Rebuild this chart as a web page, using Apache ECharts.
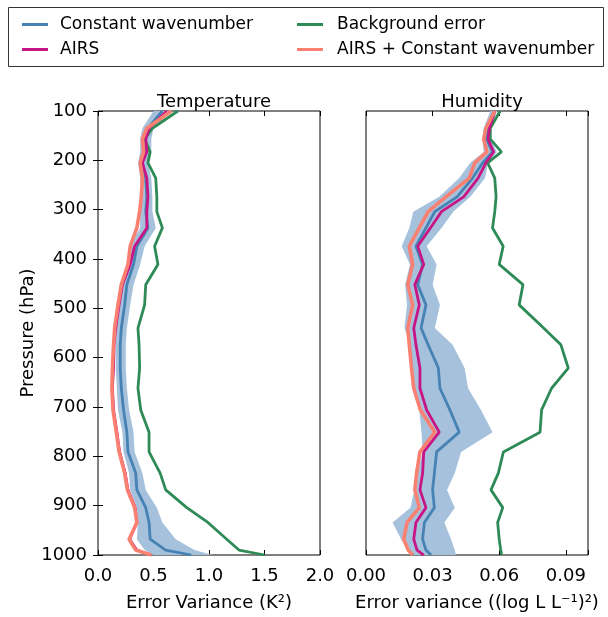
<!DOCTYPE html>
<html lang="en">
<head>
    <meta charset="UTF-8">
    <title>Error variance profiles</title>
    <script src="https://cdn.jsdelivr.net/npm/echarts/dist/echarts.min.js"></script>
    <style>
        html, body { margin: 0; padding: 0; background: #fff; }
        #main { width: 608px; height: 617px; }
    </style>
</head>
<body>
<div id="main"></div>
<script type="text/javascript">
    // pressure levels (hPa), shared by all profiles
    var levels = [100, 135, 157, 183, 205, 236, 274, 304, 337, 374, 411, 452, 493, 540,
                  574, 621, 662, 706, 751, 791, 834, 868, 904, 934, 968, 990, 1000];

    // temperature error variance (K^2)
    var tempConst   = [0.58, 0.45, 0.43, 0.43, 0.40, 0.43, 0.44, 0.43, 0.45, 0.35, 0.32, 0.26, 0.24, 0.21,
                       0.20, 0.20, 0.21, 0.23, 0.26, 0.27, 0.34, 0.35, 0.43, 0.46, 0.47, 0.61, 0.84];
    var tempConstLo = [0.50, 0.40, 0.38, 0.38, 0.36, 0.38, 0.39, 0.38, 0.38, 0.28, 0.26, 0.21, 0.19, 0.17,
                       0.16, 0.16, 0.17, 0.18, 0.22, 0.23, 0.28, 0.29, 0.35, 0.36, 0.35, 0.42, 0.50];
    var tempConstHi = [0.66, 0.50, 0.48, 0.48, 0.45, 0.48, 0.49, 0.49, 0.52, 0.42, 0.38, 0.32, 0.29, 0.26,
                       0.25, 0.25, 0.26, 0.28, 0.32, 0.33, 0.40, 0.43, 0.53, 0.58, 0.70, 0.87, 1.03];
    var tempAirs    = [0.62, 0.46, 0.43, 0.44, 0.40, 0.44, 0.45, 0.44, 0.44, 0.33, 0.29, 0.22, 0.19, 0.16,
                       0.145, 0.14, 0.13, 0.14, 0.17, 0.195, 0.245, 0.27, 0.335, 0.35, 0.285, 0.35, 0.47];
    var tempBack    = [0.72, 0.49, 0.42, 0.47, 0.45, 0.52, 0.53, 0.53, 0.58, 0.51, 0.54, 0.43, 0.42, 0.36,
                       0.37, 0.375, 0.36, 0.385, 0.46, 0.46, 0.56, 0.61, 0.80, 0.99, 1.16, 1.27, 1.50];
    var tempBoth    = [0.66, 0.44, 0.40, 0.41, 0.38, 0.40, 0.39, 0.375, 0.35, 0.29, 0.27, 0.21, 0.18, 0.15,
                       0.14, 0.13, 0.125, 0.135, 0.165, 0.19, 0.24, 0.265, 0.33, 0.35, 0.28, 0.34, 0.48];

    // humidity error variance ((log L L^-1)^2)
    var humConst   = [0.0577, 0.0548, 0.0543, 0.057, 0.0526, 0.048, 0.041, 0.031, 0.027, 0.0225, 0.0255, 0.0233, 0.027, 0.0248,
                      0.028, 0.0326, 0.0333, 0.0378, 0.042, 0.0318, 0.0308, 0.030, 0.0308, 0.0263, 0.0255, 0.027, 0.0293];
    var humConstLo = [0.056, 0.053, 0.0525, 0.053, 0.047, 0.042, 0.033, 0.0213, 0.0195, 0.0161, 0.0198, 0.0176, 0.0185, 0.0173,
                      0.0198, 0.021, 0.022, 0.024, 0.025, 0.0255, 0.023, 0.0218, 0.020, 0.012, 0.0158, 0.019, 0.0218];
    var humConstHi = [0.059, 0.0565, 0.056, 0.059, 0.055, 0.0536, 0.047, 0.0393, 0.034, 0.0273, 0.0318, 0.030, 0.0333, 0.031,
                      0.039, 0.0444, 0.046, 0.0518, 0.057, 0.0428, 0.040, 0.0365, 0.040, 0.0353, 0.0383, 0.040, 0.0405];
    var humAirs    = [0.058, 0.0556, 0.055, 0.0575, 0.054, 0.0505, 0.044, 0.034, 0.029, 0.0233, 0.026, 0.022, 0.024, 0.0215,
                      0.0225, 0.0243, 0.0243, 0.0273, 0.033, 0.026, 0.0255, 0.0243, 0.027, 0.0225, 0.0215, 0.023, 0.026];
    var humBack    = [0.0604, 0.056, 0.056, 0.061, 0.0548, 0.058, 0.0586, 0.058, 0.057, 0.0618, 0.060, 0.0707, 0.069, 0.080,
                      0.0878, 0.0911, 0.0836, 0.0791, 0.0784, 0.0619, 0.0596, 0.0563, 0.0616, 0.0593, 0.060, 0.0607, 0.0611];
    var humBoth    = [0.058, 0.054, 0.053, 0.0545, 0.049, 0.0465, 0.036, 0.028, 0.024, 0.0195, 0.021, 0.0188, 0.021, 0.0188,
                      0.0195, 0.0205, 0.0215, 0.0245, 0.031, 0.0243, 0.0228, 0.022, 0.024, 0.0185, 0.017, 0.019, 0.021];

    var tempTicks = [0, 0.5, 1.0, 1.5, 2.0];
    var humTicks = [0, 0.03, 0.06, 0.09];

    var FONT = 'DejaVu Sans';
    var C_CONST = '#4682b4', C_AIRS = '#c71585', C_BACK = '#2e8b57', C_BOTH = '#fa8072', C_BAND = '#a5c1dc';

    function pairs(vals) {
        return levels.map(function (p, i) { return [vals[i], p]; });
    }

    function line(name, vals, color, width, axis) {
        return {
            name: name, type: 'line', xAxisIndex: axis, yAxisIndex: axis,
            data: pairs(vals), showSymbol: false, animation: false,
            lineStyle: { color: color, width: width },
            itemStyle: { color: color }
        };
    }

    // shaded spread of the constant wavenumber estimate, placed through the axes
    function band(lo, hi, axis) {
        return {
            type: 'custom', name: 'spread', xAxisIndex: axis, yAxisIndex: axis,
            animation: false, silent: true,
            encode: { x: [0, 1], y: 2 },
            data: levels.map(function (p, i) { return [lo[i], hi[i], p]; }),
            renderItem: function (params, api) {
                if (params.dataIndex !== 0) return;
                var pts = [];
                for (var i = 0; i < levels.length; i++) pts.push(api.coord([lo[i], levels[i]]));
                for (var j = levels.length - 1; j >= 0; j--) pts.push(api.coord([hi[j], levels[j]]));
                return { type: 'polygon', shape: { points: pts }, style: { fill: C_BAND } };
            }
        };
    }

    function onTick(ticks, v) {
        for (var i = 0; i < ticks.length; i++) if (Math.abs(ticks[i] - v) < 1e-9) return true;
        return false;
    }

    var tick = { show: true, inside: true, length: 5, lineStyle: { color: '#000' } };
    var noLine = { show: false };

    var chart = echarts.init(document.getElementById('main'));
    chart.setOption({
        backgroundColor: '#fff',
        animation: false,
        textStyle: { fontFamily: FONT },
        title: [
            { text: 'Temperature', left: 209, top: 88, textAlign: 'center',
              textStyle: { fontFamily: FONT, fontSize: 18, fontWeight: 'normal', color: '#000' } },
            { text: 'Humidity', left: 477, top: 88, textAlign: 'center',
              textStyle: { fontFamily: FONT, fontSize: 18, fontWeight: 'normal', color: '#000' } }
        ],
        legend: [
            { data: [{ name: 'Constant wavenumber', icon: 'rect' }, { name: 'AIRS', icon: 'rect' }],
              orient: 'vertical', left: 17, top: 11, itemWidth: 26, itemHeight: 3, itemGap: 8,
              textStyle: { fontFamily: FONT, fontSize: 17, color: '#000', padding: [0, 0, 0, 7] } },
            { data: [{ name: 'Background error', icon: 'rect' }, { name: 'AIRS + Constant wavenumber', icon: 'rect' }],
              orient: 'vertical', left: 292, top: 11, itemWidth: 26, itemHeight: 3, itemGap: 8,
              textStyle: { fontFamily: FONT, fontSize: 17, color: '#000', padding: [0, 0, 0, 9] } }
        ],
        graphic: [
            { type: 'rect', left: 6, top: 5, shape: { width: 595, height: 59 },
              style: { fill: 'none', stroke: '#333', lineWidth: 1 }, z: -1 }
        ],
        grid: [
            { left: 98, top: 111, width: 222, height: 445, show: true, borderColor: '#000', borderWidth: 1, backgroundColor: 'transparent' },
            { left: 366, top: 111, width: 222, height: 445, show: true, borderColor: '#000', borderWidth: 1, backgroundColor: 'transparent' }
        ],
        xAxis: [
            { gridIndex: 0, type: 'value', min: 0, max: 2, interval: 0.5, position: 'bottom',
              axisLine: noLine, axisTick: tick, splitLine: noLine,
              axisLabel: { fontFamily: FONT, fontSize: 18, color: '#000', margin: 12,
                           formatter: function (v) { return onTick(tempTicks, v) ? v.toFixed(1) : ''; } },
              name: 'Error Variance (K²)', nameLocation: 'middle', nameGap: 39,
              nameTextStyle: { fontFamily: FONT, fontSize: 18, color: '#000' } },
            { gridIndex: 0, type: 'value', min: 0, max: 2, interval: 0.5, position: 'top',
              axisLine: noLine, axisTick: tick, splitLine: noLine, axisLabel: { show: false } },
            { gridIndex: 1, type: 'value', min: 0, max: 0.1, interval: 0.03, position: 'bottom',
              axisLine: noLine, axisTick: tick, splitLine: noLine,
              axisLabel: { fontFamily: FONT, fontSize: 18, color: '#000', margin: 12,
                           formatter: function (v) { return onTick(humTicks, v) ? v.toFixed(2) : ''; } },
              name: 'Error variance ((log L L⁻¹)²)', nameLocation: 'middle', nameGap: 39,
              nameTextStyle: { fontFamily: FONT, fontSize: 18, color: '#000' } },
            { gridIndex: 1, type: 'value', min: 0, max: 0.1, interval: 0.03, position: 'top',
              axisLine: noLine, axisTick: tick, splitLine: noLine, axisLabel: { show: false } }
        ],
        yAxis: [
            { gridIndex: 0, type: 'value', inverse: true, min: 100, max: 1000, interval: 100, position: 'left',
              axisLine: noLine, axisTick: tick, splitLine: noLine,
              axisLabel: { fontFamily: FONT, fontSize: 18, color: '#000', margin: 11,
                           formatter: function (v) { return String(v); } },
              name: 'Pressure (hPa)', nameLocation: 'middle', nameGap: 60,
              nameTextStyle: { fontFamily: FONT, fontSize: 18, color: '#000' } },
            { gridIndex: 0, type: 'value', inverse: true, min: 100, max: 1000, interval: 100, position: 'right',
              axisLine: noLine, axisTick: tick, splitLine: noLine, axisLabel: { show: false } },
            { gridIndex: 1, type: 'value', inverse: true, min: 100, max: 1000, interval: 100, position: 'left',
              axisLine: noLine, axisTick: noLine, splitLine: noLine, axisLabel: { show: false } }
        ],
        series: [
            band(tempConstLo, tempConstHi, 0),
            line('Constant wavenumber', tempConst, C_CONST, 2.8, 0),
            line('Background error', tempBack, C_BACK, 2.8, 0),
            line('AIRS', tempAirs, C_AIRS, 2.8, 0),
            line('AIRS + Constant wavenumber', tempBoth, C_BOTH, 3.6, 0),

            band(humConstLo, humConstHi, 2),
            line('Constant wavenumber', humConst, C_CONST, 2.8, 2),
            line('Background error', humBack, C_BACK, 2.8, 2),
            line('AIRS', humAirs, C_AIRS, 2.8, 2),
            line('AIRS + Constant wavenumber', humBoth, C_BOTH, 3.6, 2)
        ]
    });
</script>
</body>
</html>
